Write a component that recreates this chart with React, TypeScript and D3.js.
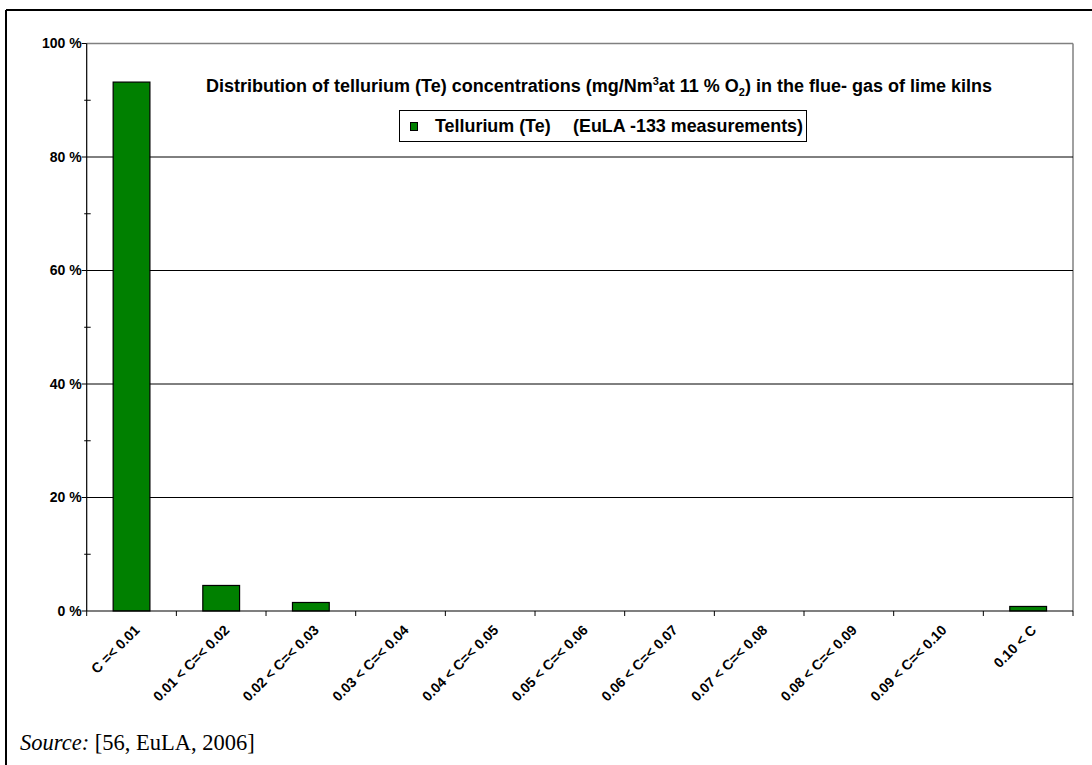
import React from "react";
import * as d3 from "d3";

const categories = [
  "C =< 0.01",
  "0.01 < C=< 0.02",
  "0.02 < C=< 0.03",
  "0.03 < C=< 0.04",
  "0.04 < C=< 0.05",
  "0.05 < C=< 0.06",
  "0.06 < C=< 0.07",
  "0.07 < C=< 0.08",
  "0.08 < C=< 0.09",
  "0.09 < C=< 0.10",
  "0.10 < C",
];
const values = [93.2, 4.5, 1.5, 0, 0, 0, 0, 0, 0, 0, 0.8];
const yTicks = [0, 20, 40, 60, 80, 100];
const yMinorTicks = [10, 30, 50, 70, 90];
const seriesName = "Tellurium (Te)";
const seriesNote = "(EuLA -133 measurements)";

const W = 1092;
const H = 765;
const SANS = "'Liberation Sans', Arial, sans-serif";
const SERIF = "'Liberation Serif', 'Times New Roman', serif";

export default function App() {
  const left = 86.7;
  const right = 1073;
  const top = 43.5;
  const bottom = 611;

  const x = d3
    .scaleBand<string>()
    .domain(categories)
    .range([left, right])
    .paddingInner(0.59)
    .paddingOuter(0.295);
  const step = x.step();
  const y = d3.scaleLinear().domain([0, 100]).range([bottom, top]);

  const boundaries = d3.range(categories.length + 1).map((i) => left + i * step);

  return (
    <svg
      width={W}
      height={H}
      style={{ position: "absolute", left: 0, top: 0, display: "block", background: "#fff" }}
    >
      <rect x={0} y={0} width={W} height={H} fill="#fff" />
      {/* outer frame */}
      <line x1={6} y1={10} x2={W} y2={10} stroke="#000" strokeWidth={2} />
      <line x1={6} y1={10} x2={6} y2={H} stroke="#000" strokeWidth={2} />

      {/* plot area border (gray) */}
      <line x1={left} y1={y(100)} x2={right} y2={y(100)} stroke="#808080" strokeWidth={1.5} />
      <line x1={right} y1={y(100)} x2={right} y2={bottom} stroke="#808080" strokeWidth={1.5} />

      {/* gridlines */}
      {yTicks
        .filter((t) => t !== 0 && t !== 100)
        .map((t) => (
          <line key={"g" + t} x1={left} x2={right} y1={y(t)} y2={y(t)} stroke="#000" strokeWidth={1} />
        ))}

      {/* bars */}
      {categories.map((c, i) => (
        <rect
          key={c}
          x={x(c)}
          y={y(values[i])}
          width={x.bandwidth()}
          height={bottom - y(values[i])}
          fill="#008000"
          stroke="#000"
          strokeWidth={1.2}
        />
      ))}

      {/* axes */}
      <line x1={left} y1={top} x2={left} y2={bottom} stroke="#000" strokeWidth={1.2} />
      <line x1={left} y1={bottom} x2={right} y2={bottom} stroke="#000" strokeWidth={1.2} />

      {/* y ticks */}
      {yTicks.map((t) => (
        <g key={"yt" + t}>
          <line x1={left - 5} x2={left} y1={y(t)} y2={y(t)} stroke="#000" strokeWidth={1} />
          <text
            x={left - 5}
            y={y(t)}
            dy="0.35em"
            textAnchor="end"
            fontFamily={SANS}
            fontWeight="bold"
            fontSize={14}
            fill="#000"
          >
            {t + " %"}
          </text>
        </g>
      ))}
      {yMinorTicks.map((t) => (
        <line key={"ym" + t} x1={left - 2.5} x2={left + 4} y1={y(t)} y2={y(t)} stroke="#000" strokeWidth={1} />
      ))}

      {/* x ticks */}
      {boundaries.map((bx, i) => (
        <line key={"xt" + i} x1={bx} x2={bx} y1={bottom} y2={bottom + 5} stroke="#000" strokeWidth={1} />
      ))}
      {categories.map((c) => {
        const cx = (x(c) as number) + x.bandwidth() / 2 + 9;
        const cy = bottom + 20;
        return (
          <text
            key={"xl" + c}
            x={cx}
            y={cy}
            textAnchor="end"
            transform={`rotate(-45 ${cx} ${cy})`}
            fontFamily={SANS}
            fontWeight="bold"
            fontSize={14}
            fill="#000"
          >
            {c}
          </text>
        );
      })}

      {/* title */}
      <text x={206} y={92} fontFamily={SANS} fontWeight="bold" fontSize={18} fill="#000">
        <tspan>Distribution of tellurium (Te) concentrations (mg/Nm</tspan>
        <tspan fontSize={11} dy={-7}>3</tspan>
        <tspan dy={7}>at 11 % O</tspan>
        <tspan fontSize={11} dy={4}>2</tspan>
        <tspan dy={-4}>) in the flue- gas of lime kilns</tspan>
      </text>

      {/* legend */}
      <rect x={399.5} y={110.5} width={407} height={31} fill="#fff" stroke="#000" strokeWidth={1} />
      <rect x={410.5} y={122.5} width={7} height={8} fill="#008000" stroke="#000" strokeWidth={1} />
      <text x={435} y={132} fontFamily={SANS} fontWeight="bold" fontSize={17.9} fill="#000">
        {seriesName}
      </text>
      <text x={573} y={132} fontFamily={SANS} fontWeight="bold" fontSize={17.9} fill="#000">
        {seriesNote}
      </text>

      {/* source */}
      <text x={20} y={750} fontFamily={SERIF} fontSize={22.5} fill="#000">
        <tspan fontStyle="italic">Source:</tspan>
        <tspan> [56, EuLA, 2006]</tspan>
      </text>
    </svg>
  );
}
